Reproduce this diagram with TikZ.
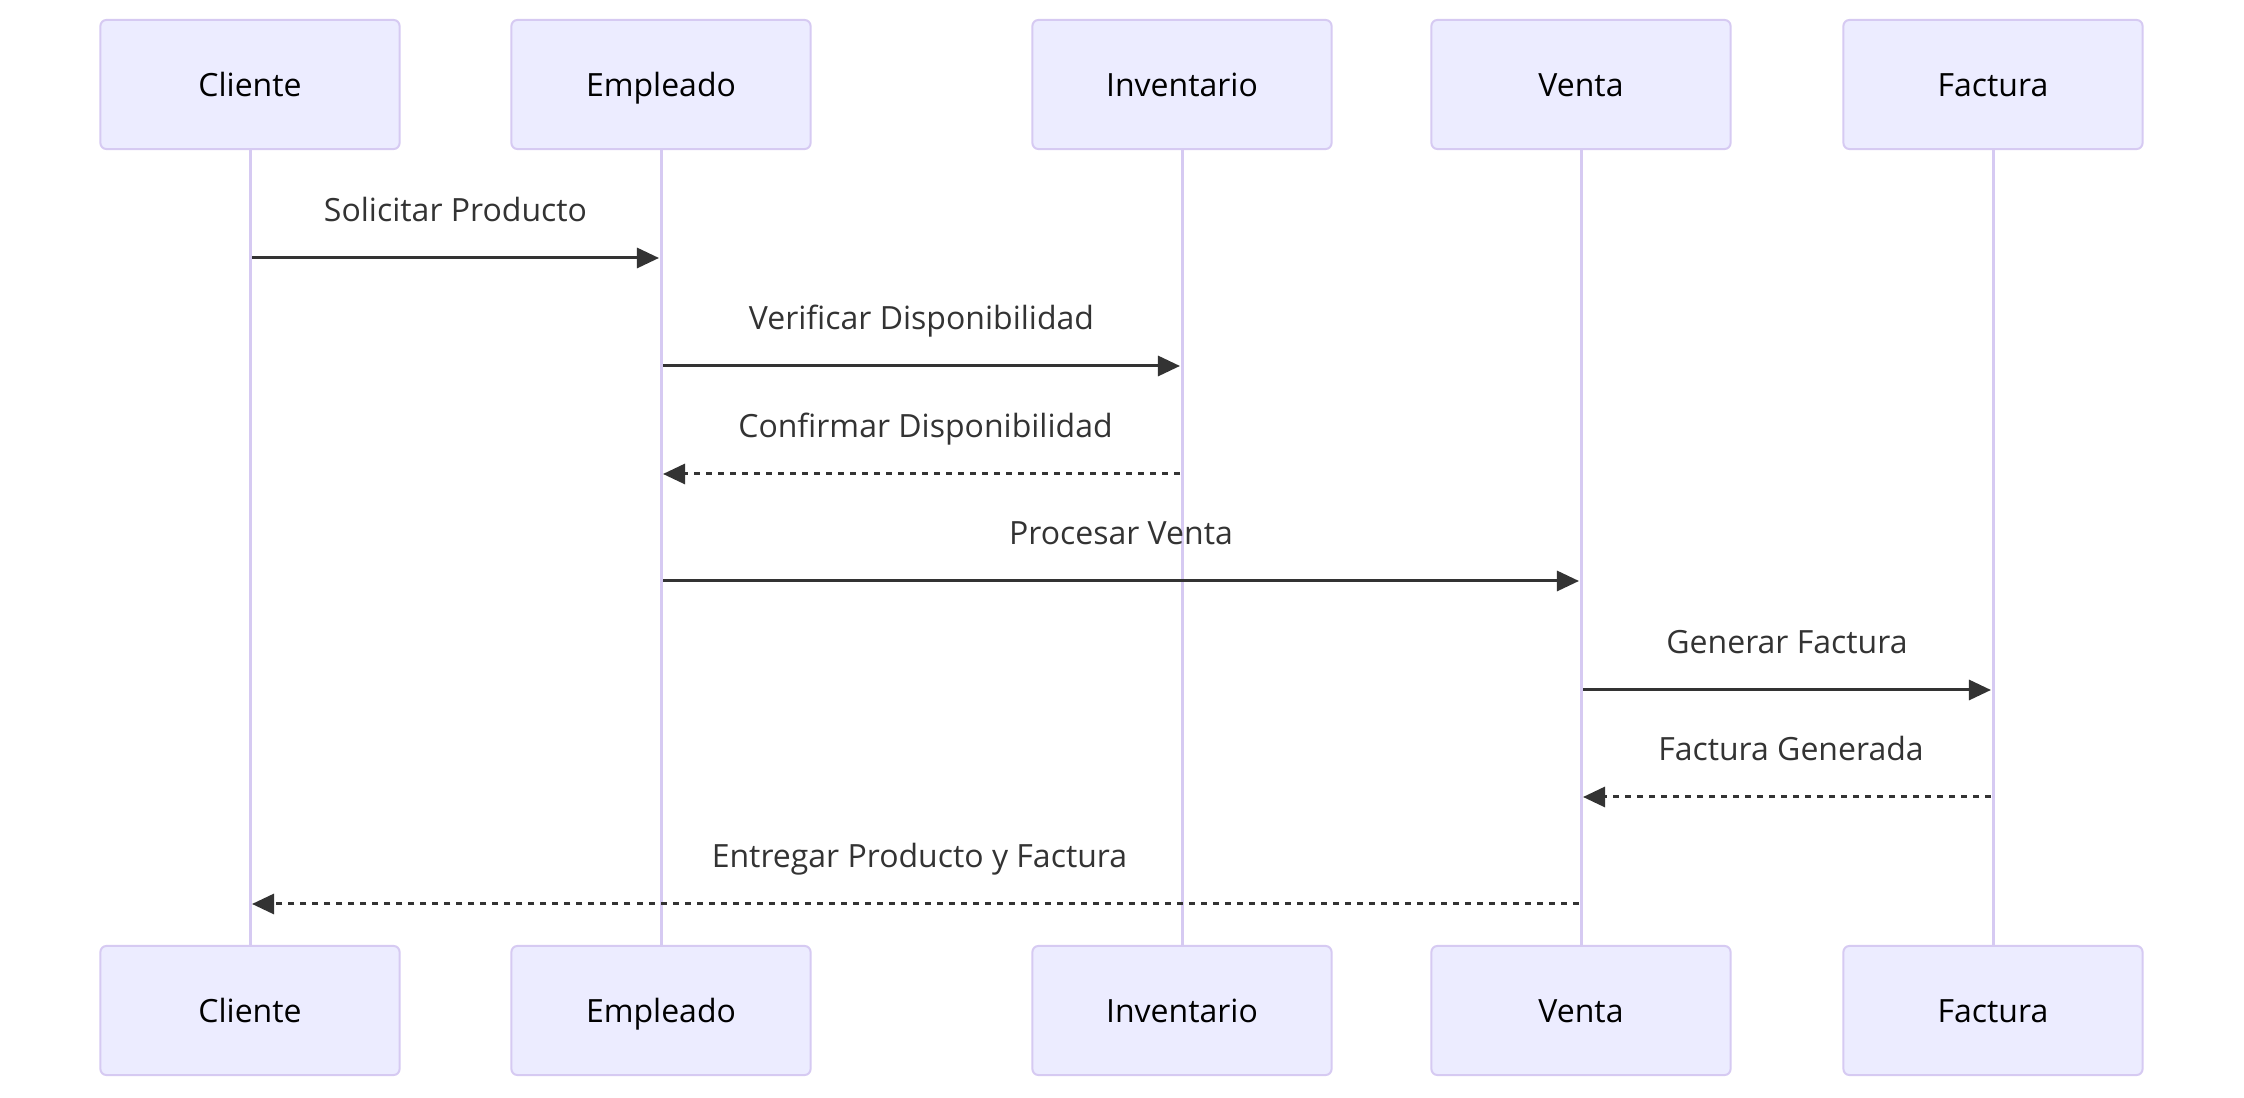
\documentclass[tikz,border=0pt]{standalone}
\usepackage{fontspec}
\setmainfont{Open Sans}
\usetikzlibrary{arrows.meta}

\definecolor{actorfill}{HTML}{ECECFF}
\definecolor{actorline}{HTML}{D6CAF2}
\definecolor{msgline}{HTML}{333333}

\tikzset{
  actorbox/.style={draw=actorline, line width=0.02cm, fill=actorfill, rounded corners=0.06cm,
    minimum width=2.99cm, minimum height=1.29cm, inner sep=0pt,
    text height=0.25cm, text depth=0pt, font=\fontsize{9.1pt}{11pt}\selectfont},
  lifeline/.style={draw=actorline, line width=0.03cm},
  msg/.style={draw=msgline, line width=0.03cm, shorten <=0.02cm, shorten >=0.02cm,
    -{Triangle[length=0.22cm,width=0.2cm]}},
  reply/.style={msg, dash pattern=on 0.06cm off 0.06cm},
  msglabel/.style={anchor=base, yshift=0.36cm, inner sep=0pt, text=msgline,
    font=\fontsize{9.1pt}{11pt}\selectfont}
}

\begin{document}
\begin{tikzpicture}[x=0.01cm, y=-0.01cm]

\useasboundingbox (0,0) rectangle (2244,1098);

\foreach \name/\txt/\x in {cliente/Cliente/250, empleado/Empleado/661, inventario/Inventario/1182,
    venta/Venta/1581, factura/Factura/1993} {
  \node[actorbox] (\name) at (\x,84.5) {\txt};
  \node[actorbox] (\name B) at (\x,1010.5) {\txt};
  \path[lifeline] (\name) -- (\name B);
}

\coordinate (m1) at (0,258);
\coordinate (m2) at (0,366);
\coordinate (m3) at (0,474);
\coordinate (m4) at (0,581);
\coordinate (m5) at (0,690);
\coordinate (m6) at (0,797);
\coordinate (m7) at (0,904);

\path[msg] (cliente |- m1) -- (empleado |- m1) node[msglabel, midway] {Solicitar Producto};
\path[msg] (empleado |- m2) -- (inventario |- m2) node[msglabel, midway] {Verificar Disponibilidad};
\path[reply] (inventario |- m3) -- (empleado |- m3) node[msglabel, midway, xshift=0.04cm] {Confirmar Disponibilidad};
\path[msg] (empleado |- m4) -- (venta |- m4) node[msglabel, midway] {Procesar Venta};
\path[msg] (venta |- m5) -- (factura |- m5) node[msglabel, midway] {Generar Factura};
\path[reply] (factura |- m6) -- (venta |- m6) node[msglabel, midway, xshift=0.04cm] {Factura Generada};
\path[reply] (venta |- m7) -- (cliente |- m7) node[msglabel, midway, xshift=0.04cm] {Entregar Producto y Factura};

\end{tikzpicture}
\end{document}
